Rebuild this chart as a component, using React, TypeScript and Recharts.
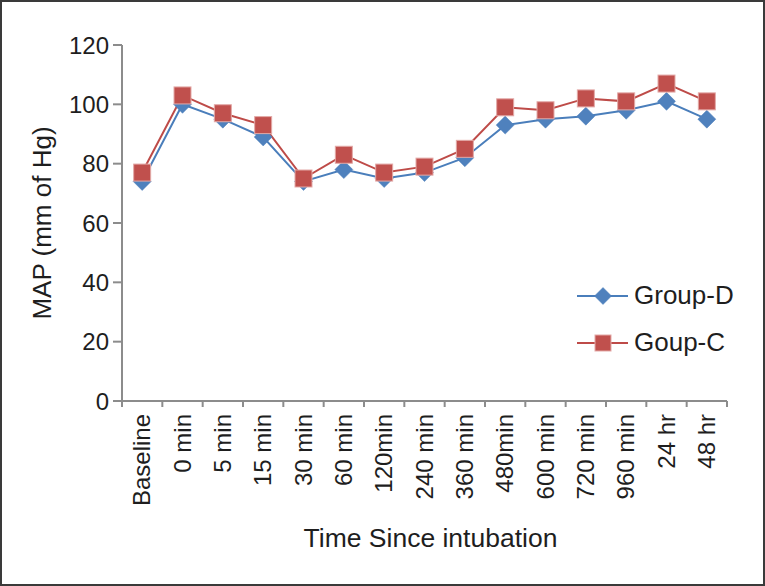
import { LineChart, Line, XAxis, YAxis } from "recharts";

const categories = [
  "Baseline",
  "0 min",
  "5 min",
  "15 min",
  "30 min",
  "60 min",
  "120min",
  "240 min",
  "360 min",
  "480min",
  "600 min",
  "720 min",
  "960 min",
  "24 hr",
  "48 hr",
];
const groupD = [74, 100, 95, 89, 74, 78, 75, 77, 82, 93, 95, 96, 98, 101, 95];
const groupC = [77, 103, 97, 93, 75, 83, 77, 79, 85, 99, 98, 102, 101, 107, 101];
const yTicks = [0, 20, 40, 60, 80, 100, 120];

const data = categories.map((name, i) => ({ name, d: groupD[i], c: groupC[i] }));

const BLUE = "#4a7ebb";
const BLUE_FILL = "#4f81bd";
const RED = "#be4b48";
const RED_FILL = "#c0504d";
const AXIS = "#8c8c8c";
const TEXT = "#1e1e1e";
const FONT = "'Liberation Sans', Arial, sans-serif";

const Diamond = ({ cx, cy, r = 9 }: any) => (
  <polygon
    points={`${cx},${cy - r} ${cx + r},${cy} ${cx},${cy + r} ${cx - r},${cy}`}
    fill={BLUE_FILL}
    stroke={BLUE_FILL}
    strokeWidth={0.5}
  />
);

const Square = ({ cx, cy, s = 17 }: any) => (
  <rect
    x={cx - s / 2}
    y={cy - s / 2}
    width={s}
    height={s}
    fill={RED_FILL}
    stroke="#e3a9a7"
    strokeWidth={1}
  />
);

const XTick = ({ x, y, payload, index }: any) => {
  const half = payload && payload.offset ? payload.offset : 605 / 30;
  const top = y - 8;
  return (
    <g>
      <line x1={x - half} y1={top} x2={x - half} y2={top + 6} stroke={AXIS} strokeWidth={2} />
      {index === categories.length - 1 && (
        <line x1={x + half} y1={top} x2={x + half} y2={top + 6} stroke={AXIS} strokeWidth={2} />
      )}
      <g transform={`translate(${x},${y})`}>
        <text
          x={-5}
          y={0}
          dy={8}
          transform="rotate(-90)"
          textAnchor="end"
          fill={TEXT}
          fontSize={24}
          fontFamily={FONT}
        >
          {payload.value}
        </text>
      </g>
    </g>
  );
};

const YLabel = ({ viewBox }: any) => {
  const vb = viewBox || { x: 0, y: 45, width: 122, height: 356 };
  const cx = vb.x + 42;
  const cy = vb.y + vb.height / 2;
  return (
    <text
      x={cx}
      y={cy}
      transform={`rotate(-90, ${cx}, ${cy})`}
      textAnchor="middle"
      dominantBaseline="central"
      fill={TEXT}
      fontSize={26}
      fontFamily={FONT}
    >
      MAP (mm of Hg)
    </text>
  );
};

const XLabel = ({ viewBox }: any) => {
  const vb = viewBox || { x: 122, y: 401, width: 605, height: 185 };
  return (
    <text
      x={vb.x + vb.width / 2 + 6}
      y={vb.y + 146}
      textAnchor="middle"
      fill={TEXT}
      fontSize={26.5}
      fontFamily={FONT}
    >
      Time Since intubation
    </text>
  );
};

const legendItems = [
  { label: "Group-D", color: BLUE, marker: "diamond" },
  { label: "Goup-C", color: RED, marker: "square" },
];

const ChartLegend = () => (
  <div
    style={{
      position: "absolute",
      left: 577,
      top: 272,
      fontFamily: FONT,
      fontSize: 26,
      color: TEXT,
    }}
  >
    {legendItems.map((it) => (
      <div key={it.label} style={{ display: "flex", alignItems: "center", height: 47 }}>
        <svg width={54} height={20} style={{ marginRight: 3 }}>
          <line x1={0} y1={10} x2={51} y2={10} stroke={it.color} strokeWidth={2} />
          {it.marker === "diamond" ? <Diamond cx={26} cy={10} r={8.5} /> : <Square cx={26} cy={10} s={16} />}
        </svg>
        <span>{it.label}</span>
      </div>
    ))}
  </div>
);

export default function App() {
  return (
    <div style={{ position: "absolute", left: 0, top: 0, width: 765, height: 586, background: "#fff" }}>
      <LineChart
        width={765}
        height={586}
        data={data}
        margin={{ top: 45, right: 38, bottom: 0, left: 0 }}
      >
        <XAxis
          dataKey="name"
          scale="band"
          height={185}
          axisLine={{ stroke: AXIS, strokeWidth: 2 }}
          tickLine={false}
          tick={<XTick />}
          interval={0}
          label={<XLabel />}
        />
        <YAxis
          width={122}
          domain={[0, 120]}
          ticks={yTicks}
          axisLine={{ stroke: AXIS, strokeWidth: 2 }}
          tickLine={{ stroke: AXIS, strokeWidth: 2 }}
          tickSize={9}
          tickMargin={4}
          tick={{ fill: TEXT, fontSize: 24, fontFamily: FONT }}
          label={<YLabel />}
        />
        <Line
          dataKey="d"
          stroke={BLUE}
          strokeWidth={2}
          isAnimationActive={false}
          dot={(p: any) => <Diamond key={`d-${p.index}`} cx={p.cx} cy={p.cy} />}
          activeDot={false}
        />
        <Line
          dataKey="c"
          stroke={RED}
          strokeWidth={2}
          isAnimationActive={false}
          dot={(p: any) => <Square key={`c-${p.index}`} cx={p.cx} cy={p.cy} />}
          activeDot={false}
        />
      </LineChart>
      <ChartLegend />
      <div
        style={{
          position: "absolute",
          inset: 0,
          border: "2px solid #3a3a3a",
          boxSizing: "border-box",
          pointerEvents: "none",
        }}
      />
    </div>
  );
}
